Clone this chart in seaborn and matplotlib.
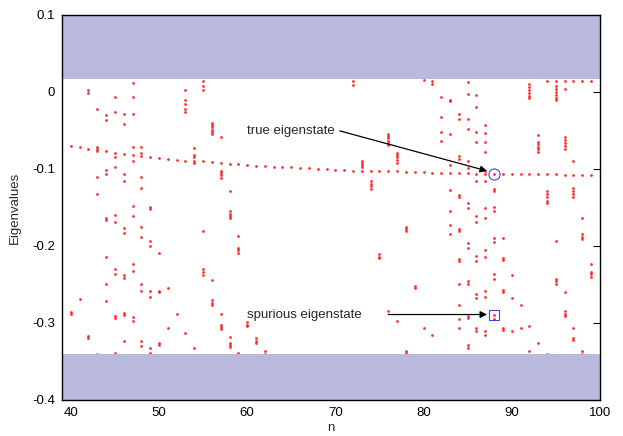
import numpy as np
import pandas as pd
import seaborn as sns
import matplotlib
matplotlib.use("Agg")
import matplotlib.pyplot as plt

# eigenvalue of the "true" state for each n
true_n = list(range(40, 100))
true_v = [-0.070, -0.072, -0.074, -0.074, -0.077, -0.079, -0.080, -0.082, -0.083, -0.084,
          -0.086, -0.087, -0.088, -0.089, -0.089, -0.090, -0.091, -0.092, -0.093, -0.094,
          -0.095, -0.096, -0.096, -0.097, -0.098, -0.098, -0.099, -0.099, -0.100, -0.100,
          -0.101, -0.101, -0.102, -0.102, -0.102, -0.103, -0.103, -0.103, -0.104, -0.104,
          -0.104, -0.105, -0.105, -0.105, -0.105, -0.105, -0.106, -0.106, -0.106, -0.106,
          -0.106, -0.107, -0.107, -0.107, -0.107, -0.107, -0.108, -0.108, -0.108, -0.108]

# other (spurious) eigenvalues, per n
spurious = {
    40: [-0.286, -0.288],
    41: [-0.269],
    42: [0.003, -0.001, -0.317, -0.320],
    43: [-0.022, -0.071, -0.077, -0.110, -0.133, -0.340],
    44: [-0.030, -0.037, -0.101, -0.106, -0.163, -0.166, -0.214, -0.249, -0.271],
    45: [-0.007, -0.026, -0.084, -0.097, -0.160, -0.169, -0.230, -0.236, -0.291, -0.294, -0.339],
    46: [-0.029, -0.042, -0.106, -0.115, -0.177, -0.183, -0.238, -0.241, -0.287, -0.289, -0.323],
    47: [0.012, -0.006, -0.029, -0.072, -0.090, -0.148, -0.161, -0.223, -0.232, -0.292, -0.298],
    48: [-0.071, -0.079, -0.111, -0.125, -0.175, -0.188, -0.249, -0.259, -0.323, -0.330],
    49: [-0.150, -0.152, -0.194, -0.200, -0.259, -0.266, -0.332, -0.339],
    50: [-0.209, -0.258, -0.260, -0.326, -0.328],
    51: [-0.254, -0.306],
    52: [-0.288],
    53: [0.003, -0.011, -0.016, -0.022, -0.026, -0.313],
    54: [-0.073, -0.082, -0.085, -0.092, -0.332],
    55: [0.014, 0.008, 0.003, -0.181, -0.230, -0.234, -0.238],
    56: [-0.040, -0.043, -0.046, -0.049, -0.052, -0.055, -0.244, -0.270, -0.274, -0.277],
    57: [-0.058, -0.102, -0.105, -0.108, -0.112, -0.288, -0.302, -0.305, -0.308],
    58: [-0.129, -0.155, -0.158, -0.161, -0.163, -0.318, -0.326, -0.329, -0.331],
    59: [-0.187, -0.202, -0.205, -0.209, -0.339],
    60: [-0.299, -0.302, -0.304],
    61: [-0.320, -0.323, -0.326],
    62: [-0.336, -0.340],
    72: [0.014, 0.009],
    73: [-0.089, -0.092, -0.095, -0.098],
    74: [-0.116, -0.119, -0.122, -0.126],
    75: [-0.211, -0.214, -0.216],
    76: [-0.054, -0.057, -0.060, -0.063, -0.066, -0.069, -0.284],
    77: [-0.079, -0.082, -0.085, -0.088, -0.092, -0.297],
    78: [-0.175, -0.178, -0.181, -0.337, -0.339],
    79: [-0.252, -0.255],
    80: [0.015, -0.307],
    81: [0.014, 0.011, -0.316],
    82: [-0.006, -0.032, -0.052, -0.064],
    83: [-0.010, -0.012, -0.055, -0.095, -0.127, -0.154, -0.173, -0.185],
    84: [-0.029, -0.035, -0.083, -0.087, -0.134, -0.136, -0.178, -0.180, -0.217, -0.219,
         -0.250, -0.276, -0.295, -0.306],
    85: [0.013, -0.002, -0.035, -0.048, -0.089, -0.099, -0.144, -0.151, -0.196, -0.203,
         -0.246, -0.250, -0.291, -0.294, -0.329, -0.332],
    86: [-0.004, -0.019, -0.052, -0.065, -0.115, -0.161, -0.169, -0.213, -0.220, -0.262,
         -0.267, -0.307, -0.310],
    87: [-0.043, -0.053, -0.065, -0.078, -0.103, -0.115, -0.151, -0.163, -0.205, -0.214,
         -0.258, -0.266, -0.311, -0.316],
    88: [-0.126, -0.128, -0.150, -0.155, -0.189, -0.195, -0.236, -0.243, -0.289, -0.295],
    89: [-0.189, -0.216, -0.218, -0.257, -0.260, -0.306, -0.309],
    90: [-0.238, -0.268, -0.311],
    91: [-0.276, -0.307],
    92: [0.010, 0.007, 0.003, -0.001, -0.005, -0.008, -0.304, -0.337],
    93: [-0.056, -0.065, -0.068, -0.071, -0.074, -0.078, -0.326],
    94: [0.014, -0.129, -0.133, -0.137, -0.141, -0.144, -0.340],
    95: [0.014, 0.008, 0.004, 0.000, -0.004, -0.008, -0.010, -0.194, -0.243, -0.246, -0.250],
    96: [0.014, 0.004, -0.058, -0.062, -0.066, -0.070, -0.074, -0.260, -0.285, -0.288, -0.291],
    97: [0.014, -0.089, -0.125, -0.128, -0.132, -0.136, -0.307, -0.319, -0.322],
    98: [0.014, -0.163, -0.185, -0.188, -0.191, -0.336, -0.340],
    99: [0.014, -0.224, -0.234, -0.237, -0.240],
}

# forbidden regions (shaded)
band_top = (0.017, 0.1)
band_bottom = (-0.4, -0.34)

# marked states
true_mark = (88, -0.106)
spur_mark = (88, -0.289)

rows = [(n, v) for n, v in zip(true_n, true_v)]
for n, vals in spurious.items():
    rows += [(n, v) for v in vals]
df = pd.DataFrame(rows, columns=["n", "eig"])

sns.set_style("white")
plt.rcParams['font.family'] = ['Liberation Sans', 'DejaVu Sans']

fig = plt.figure(figsize=(6.23, 4.36), dpi=100)
ax = fig.add_axes([0.0995, 0.0826, 0.8635, 0.8830])

sns.scatterplot(data=df, x="n", y="eig", ax=ax, marker="o", s=4, color="#ff1a1a",
                linewidth=0, alpha=0.9, zorder=2, legend=False)

ax.axhspan(band_top[0], band_top[1], color="#b9b9dd", lw=0, zorder=3)
ax.axhspan(band_bottom[0], band_bottom[1], color="#b9b9dd", lw=0, zorder=3)

ax.plot(*true_mark, marker="o", ms=8, mfc="none", mec="#4040ff", mew=0.8, zorder=4)
ax.plot(*spur_mark, marker="s", ms=7.5, mfc="none", mec="#4040ff", mew=0.8, zorder=4)

ax.text(60.0, -0.0505, "true eigenstate", fontsize=9.5, ha="left", va="center")
ax.annotate("", xy=(87.2, -0.1025), xytext=(70.5, -0.0505),
            arrowprops=dict(arrowstyle="-|>", color="black", lw=0.9,
                            mutation_scale=10, shrinkA=0, shrinkB=0))
ax.text(60.0, -0.289, "spurious eigenstate", fontsize=9.5, ha="left", va="center")
ax.annotate("", xy=(87.2, -0.289), xytext=(76.0, -0.289),
            arrowprops=dict(arrowstyle="-|>", color="black", lw=0.9,
                            mutation_scale=10, shrinkA=0, shrinkB=0))

ax.set_xlim(39, 100)
ax.set_ylim(-0.4, 0.1)
ax.set_xticks(range(40, 101, 10))
ax.set_yticks([0.1, 0, -0.1, -0.2, -0.3, -0.4])
ax.set_yticklabels(["0.1", "0", "-0.1", "-0.2", "-0.3", "-0.4"])
ax.tick_params(direction="in", length=5, width=0.8, top=True, right=True,
               labelsize=9.5, pad=5, colors="black")
ax.set_xlabel("n", fontsize=9.5, labelpad=2)
ax.set_ylabel("Eigenvalues", fontsize=9.5, labelpad=8)
for s in ax.spines.values():
    s.set_color("black")
    s.set_linewidth(1.0)
    s.set_zorder(5)

fig.savefig("out.png", dpi=100)
